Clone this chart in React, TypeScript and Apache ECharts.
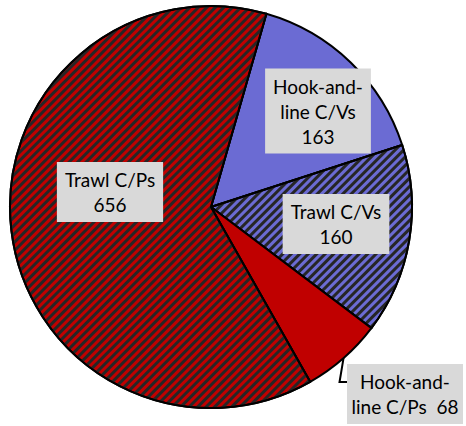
import React, { useEffect, useRef } from "react";
import * as echarts from "echarts";

const categories = ["Hook-and-line C/Vs", "Trawl C/Vs", "Hook-and-line C/Ps", "Trawl C/Ps"];
const values = [163, 160, 68, 656];
const labelTexts = ["Hook-and-\nline C/Vs\n163", "Trawl C/Vs\n160", "Hook-and-\nline C/Ps  68", "Trawl C/Ps\n656"];

const sliceColors = ["#6B6BD3", "#6B6BD3", "#C00000", "#C00000"];
const striped = [false, true, false, true];
const labelCenters = [
  [318, 111],
  [336, 224],
  [405, 394],
  [110, 192],
];

export default function App() {
  const ref = useRef<HTMLDivElement>(null);
  useEffect(() => {
    if (!ref.current) return;
    const chart = echarts.init(ref.current, null, { renderer: "svg" });
    const data = categories.map((name, i) => ({
      name,
      value: values[i],
      itemStyle: {
        color: sliceColors[i],
        decal: striped[i]
          ? {
              symbol: "rect",
              symbolSize: 1,
              color: "#262626",
              dashArrayX: [1, 0],
              dashArrayY: [2.2, 2.2],
              rotation: -Math.PI / 4,
            }
          : "none",
      },
      label:
        i === 2
          ? { position: "outside", formatter: labelTexts[i], overflow: "none", width: 100 }
          : { position: "inside", formatter: labelTexts[i], overflow: "none" },
      labelLine: { show: i === 2 },
    }));
    chart.setOption({
      animation: false,
      series: [
        {
          type: "pie",
          center: [211, 207],
          radius: 201,
          startAngle: 74,
          clockwise: true,
          data,
          itemStyle: { borderColor: "#000", borderWidth: 2 },
          emphasis: { disabled: true },
          label: {
            show: true,
            color: "#000",
            fontFamily: "Lato",
            fontSize: 19,
            lineHeight: 25,
            align: "center",
            backgroundColor: "#D9D9D9",
            padding: [5, 8, 5, 8],
          },
          labelLine: {
            show: false,
            lineStyle: { color: "#000", width: 2 },
          },
          labelLayout: (params: any) => {
            const i = params.dataIndex;
            const [cx, cy] = labelCenters[i];
            const res: any = { x: cx, y: cy, align: "center", verticalAlign: "middle" };
            if (i === 2 && params.labelLinePoints) {
              const p0 = params.labelLinePoints[0];
              const w = params.labelRect.width;
              const h = params.labelRect.height;
              const left = cx - w / 2;
              const ly = cy - h / 2 + 18;
              res.labelLinePoints = [p0, [p0[0] - 4, ly], [left, ly]];
            }
            return res;
          },
        },
      ],
    });
    return () => chart.dispose();
  }, []);
  return (
    <div
      ref={ref}
      style={{ position: "fixed", left: 0, top: 0, width: 466, height: 426, background: "#fff" }}
    />
  );
}
